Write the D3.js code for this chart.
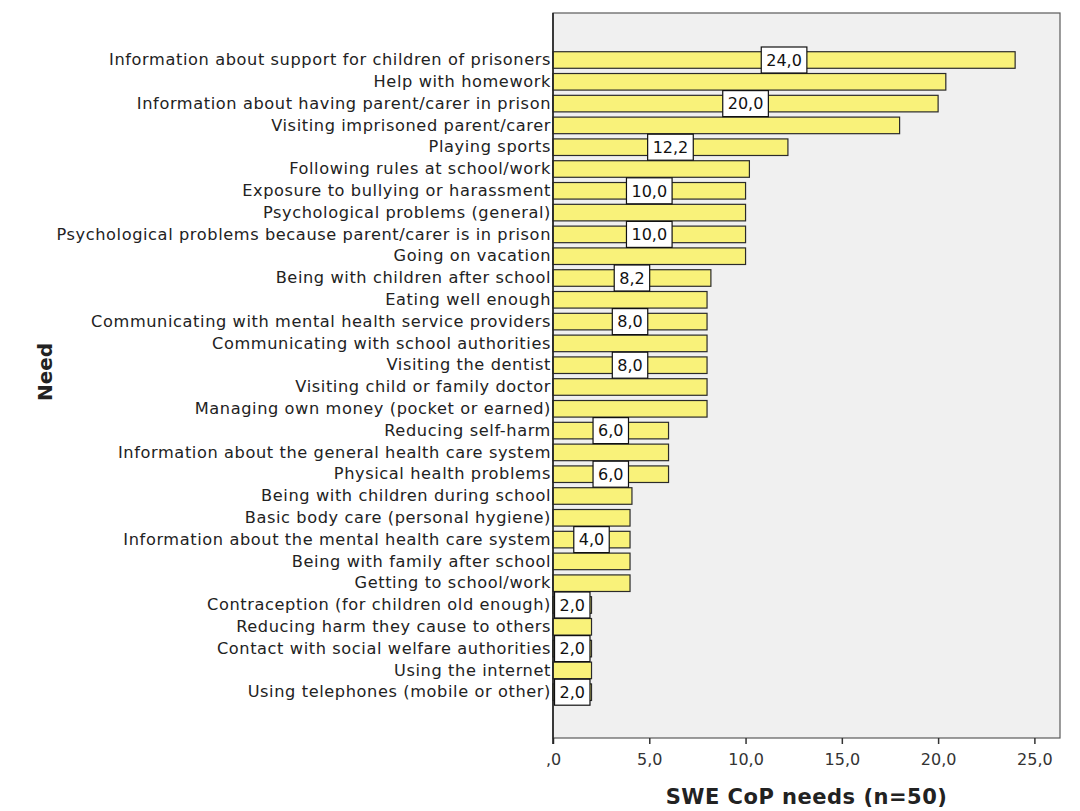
<!DOCTYPE html>
<html>
<head>
<meta charset="utf-8">
<script src="https://cdn.jsdelivr.net/npm/d3@7"></script>
<style>
  html, body { margin: 0; padding: 0; background: #ffffff; }
  svg { display: block; }
</style>
</head>
<body>
<svg id="chart" width="1080" height="811"></svg>
<script>
const categories = [
  "Information about support for children of prisoners",
  "Help with homework",
  "Information about having parent/carer in prison",
  "Visiting imprisoned parent/carer",
  "Playing sports",
  "Following rules at school/work",
  "Exposure to bullying or harassment",
  "Psychological problems (general)",
  "Psychological problems because parent/carer is in prison",
  "Going on vacation",
  "Being with children after school",
  "Eating well enough",
  "Communicating with mental health service providers",
  "Communicating with school authorities",
  "Visiting the dentist",
  "Visiting child or family doctor",
  "Managing own money (pocket or earned)",
  "Reducing self-harm",
  "Information about the general health care system",
  "Physical health problems",
  "Being with children during school",
  "Basic body care (personal hygiene)",
  "Information about the mental health care system",
  "Being with family after school",
  "Getting to school/work",
  "Contraception (for children old enough)",
  "Reducing harm they cause to others",
  "Contact with social welfare authorities",
  "Using the internet",
  "Using telephones (mobile or other)"
];
const values = [24.0, 20.4, 20.0, 18.0, 12.2, 10.2, 10.0, 10.0, 10.0, 10.0,
                8.2, 8.0, 8.0, 8.0, 8.0, 8.0, 8.0, 6.0, 6.0, 6.0,
                4.1, 4.0, 4.0, 4.0, 4.0, 2.0, 2.0, 2.0, 2.0, 2.0];
const showLabel = [true, false, true, false, true, false, true, false, true, false,
                   true, false, true, false, true, false, false, true, false, true,
                   false, false, true, false, false, true, false, true, false, true];
const xTicks = [0, 5, 10, 15, 20, 25];
const xTitle = "SWE CoP needs (n=50)";
const yTitle = "Need";

const fmt = v => (v === 0 ? ",0" : d3.format(".1f")(v).replace(".", ","));

const data = categories.map((c, i) => ({ cat: c, val: values[i], lab: showLabel[i] }));

const svg = d3.select("#chart");
const box = { left: 553, right: 1060, top: 13, bottom: 738 };

const x = d3.scaleLinear().domain([0, 26.33]).range([box.left, box.right]);
const y = d3.scaleBand().domain(categories).range([49.1, 703.1]).paddingInner(0.24).paddingOuter(0.12);

// plot background
svg.append("rect")
  .attr("x", box.left).attr("y", box.top)
  .attr("width", box.right - box.left).attr("height", box.bottom - box.top)
  .attr("fill", "#f0f0f0").attr("stroke", "#5a5a5a").attr("stroke-width", 1.2);

// bars
svg.append("g").selectAll("rect").data(data).join("rect")
  .attr("x", x(0))
  .attr("y", d => y(d.cat))
  .attr("width", d => x(d.val) - x(0))
  .attr("height", y.bandwidth())
  .attr("fill", "#f9f27a")
  .attr("stroke", "#2b2b2b")
  .attr("stroke-width", 1.2);

// value labels
const lg = svg.append("g").selectAll("g").data(data.filter(d => d.lab)).join("g")
  .attr("transform", d => `translate(${x(d.val / 2)},${y(d.cat) + y.bandwidth() / 2})`);
lg.append("text")
  .attr("text-anchor", "middle")
  .attr("dy", "0.36em")
  .attr("font-family", "DejaVu Sans, sans-serif")
  .attr("font-size", 16)
  .attr("fill", "#111")
  .text(d => fmt(d.val))
  .each(function() {
    const bb = this.getBBox();
    d3.select(this.parentNode).insert("rect", "text")
      .attr("x", bb.x - 5).attr("y", -13)
      .attr("width", bb.width + 10).attr("height", 26)
      .attr("fill", "#ffffff").attr("stroke", "#111").attr("stroke-width", 1.2);
  });

// x axis
const xAxis = d3.axisBottom(x).tickValues(xTicks).tickFormat(fmt).tickSize(6).tickPadding(10);
const gx = svg.append("g").attr("transform", `translate(0,${box.bottom})`).call(xAxis);
gx.select(".domain").remove();
gx.selectAll(".tick line").attr("stroke", "#333").attr("stroke-width", 1.5);
gx.selectAll(".tick text")
  .attr("font-family", "DejaVu Sans, sans-serif")
  .attr("font-size", 16)
  .attr("fill", "#333");

// y axis (labels, no ticks)
const yAxis = d3.axisLeft(y).tickSize(0).tickPadding(2);
const gy = svg.append("g").attr("transform", `translate(${box.left},0)`).call(yAxis);
gy.select(".domain").remove();
gy.selectAll(".tick text")
  .attr("font-family", "DejaVu Sans, sans-serif")
  .attr("font-size", 16.2)
  .attr("letter-spacing", "0.6px")
  .attr("fill", "#222");

// left axis line
svg.append("line")
  .attr("x1", box.left).attr("x2", box.left)
  .attr("y1", box.top).attr("y2", box.bottom + 6)
  .attr("stroke", "#222").attr("stroke-width", 1.6);

// axis titles
svg.append("text")
  .attr("x", (box.left + box.right) / 2).attr("y", 804)
  .attr("text-anchor", "middle")
  .attr("font-family", "DejaVu Sans, sans-serif")
  .attr("font-weight", "bold")
  .attr("font-size", 21)
  .attr("letter-spacing", "0.5px")
  .attr("fill", "#222")
  .text(xTitle);

svg.append("text")
  .attr("transform", "translate(52,372) rotate(-90)")
  .attr("text-anchor", "middle")
  .attr("font-family", "DejaVu Sans, sans-serif")
  .attr("font-weight", "bold")
  .attr("font-size", 20)
  .attr("fill", "#222")
  .text(yTitle);
</script>
</body>
</html>
